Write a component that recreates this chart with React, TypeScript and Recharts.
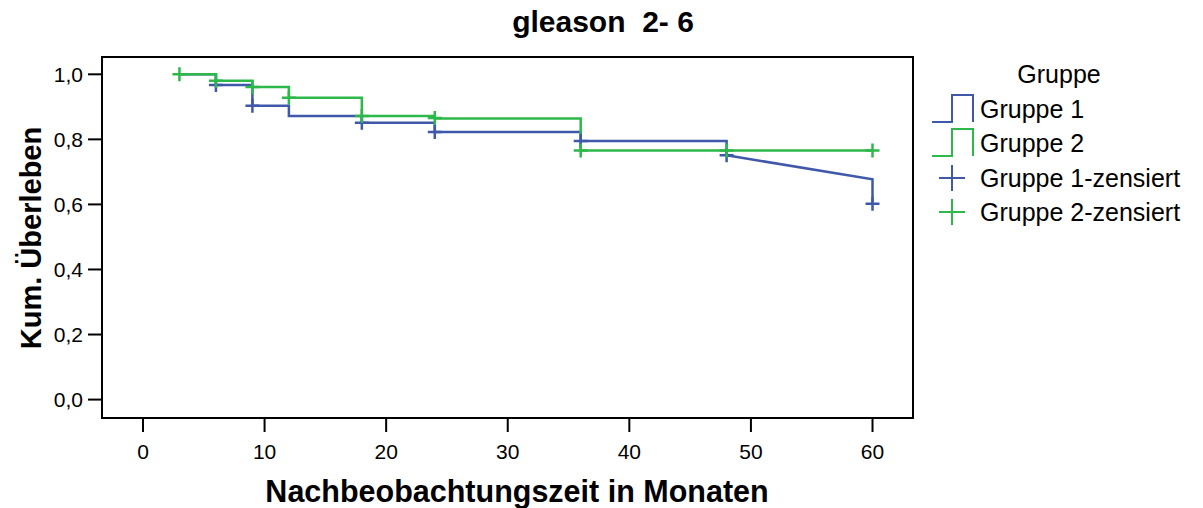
import React from 'react';
import { ComposedChart, Line, Scatter, XAxis, YAxis, ReferenceArea } from 'recharts';

// Kaplan-Meier step points (time in months, cumulative survival)
const gruppe1Zeit = [3, 6, 9, 12, 18, 24, 36, 48];
const gruppe1Ueberleben = [1.0, 0.967, 0.903, 0.872, 0.851, 0.823, 0.795, 0.751];
const gruppe1EndeZeit = [48, 60, 60];
const gruppe1EndeUeberleben = [0.751, 0.677, 0.602];
const gruppe1ZensiertZeit = [6, 9, 18, 24, 36, 48, 60];
const gruppe1ZensiertWert = [0.967, 0.903, 0.851, 0.823, 0.795, 0.751, 0.602];

const gruppe2Zeit = [3, 6, 9, 12, 18, 24, 36, 60];
const gruppe2Ueberleben = [1.0, 0.98, 0.961, 0.928, 0.872, 0.864, 0.766, 0.766];
const gruppe2ZensiertZeit = [3, 6, 9, 12, 18, 24, 36, 48, 60];
const gruppe2ZensiertWert = [1.0, 0.98, 0.961, 0.928, 0.872, 0.866, 0.766, 0.766, 0.766];

const xTicks = [0, 10, 20, 30, 40, 50, 60];
const yTicks = [0, 0.2, 0.4, 0.6, 0.8, 1.0];
const xDomain = [-3.37, 63.33];
const yDomain = [-0.0566, 1.0532];

const titel = 'gleason  2- 6';
const xTitel = 'Nachbeobachtungszeit in Monaten';
const yTitel = 'Kum. Überleben';
const legendeTitel = 'Gruppe';
const legendeNamen = ['Gruppe 1', 'Gruppe 2', 'Gruppe 1-zensiert', 'Gruppe 2-zensiert'];

const BLUE = '#3F58AA';
const GREEN = '#2DB84A';
const FONT = '"Liberation Sans", Arial, sans-serif';
const LW = 2.5;

const toRows = (t: number[], s: number[]) => t.map((v, i) => ({ t: v, s: s[i] }));

const g1 = toRows(gruppe1Zeit, gruppe1Ueberleben);
const g1Ende = toRows(gruppe1EndeZeit, gruppe1EndeUeberleben);
const g1Z = toRows(gruppe1ZensiertZeit, gruppe1ZensiertWert);
const g2 = toRows(gruppe2Zeit, gruppe2Ueberleben);
const g2Z = toRows(gruppe2ZensiertZeit, gruppe2ZensiertWert);

const crossShape = (color: string) => (props: any) => {
  const { cx, cy } = props;
  if (cx == null || cy == null) return <g />;
  return (
    <path
      d={`M${cx - 7},${cy}H${cx + 7}M${cx},${cy - 7}V${cy + 7}`}
      stroke={color}
      strokeWidth={LW}
      fill="none"
    />
  );
};

export default function App() {
  return (
    <div style={{ position: 'absolute', left: 0, top: 0, width: 1203, height: 508, background: '#fff' }}>
      <ComposedChart
        width={1203}
        height={508}
        margin={{ top: 57, right: 290, bottom: 50, left: 42 }}
        style={{ position: 'absolute', left: 0, top: 0 }}
      >
        <XAxis
          type="number"
          dataKey="t"
          domain={xDomain}
          allowDataOverflow
          ticks={xTicks}
          height={40}
          axisLine={false}
          tickSize={14}
          tickMargin={12}
          tickLine={{ stroke: '#000', strokeWidth: 2 }}
          tick={{ fill: '#000', fontSize: 21, fontFamily: FONT }}
        />
        <YAxis
          type="number"
          domain={yDomain}
          allowDataOverflow
          ticks={yTicks}
          width={60}
          axisLine={false}
          tickSize={14}
          tickMargin={5}
          tickLine={{ stroke: '#000', strokeWidth: 2 }}
          tick={{ fill: '#000', fontSize: 21, fontFamily: FONT }}
          tickFormatter={(v: number) => v.toFixed(1).replace('.', ',')}
        />
        <ReferenceArea
          x1={xDomain[0]}
          x2={xDomain[1]}
          y1={yDomain[0]}
          y2={yDomain[1]}
          fill="none"
          stroke="#000"
          strokeWidth={2}
          ifOverflow="visible"
        />
        <Line data={g1} dataKey="s" type="stepAfter" stroke={BLUE} strokeWidth={LW} dot={false} activeDot={false} isAnimationActive={false} />
        <Line data={g1Ende} dataKey="s" type="linear" stroke={BLUE} strokeWidth={LW} dot={false} activeDot={false} isAnimationActive={false} />
        <Line data={g2} dataKey="s" type="stepAfter" stroke={GREEN} strokeWidth={LW} dot={false} activeDot={false} isAnimationActive={false} />
        <Scatter data={g1Z} dataKey="s" shape={crossShape(BLUE)} isAnimationActive={false} />
        <Scatter data={g2Z} dataKey="s" shape={crossShape(GREEN)} isAnimationActive={false} />
      </ComposedChart>
      <svg width={1203} height={508} style={{ position: 'absolute', left: 0, top: 0, pointerEvents: 'none' }}>
        <text x={603} y={32} textAnchor="middle" fontFamily={FONT} fontWeight="bold" fontSize={30} fill="#000" style={{ whiteSpace: 'pre' }}>
          {titel}
        </text>
        <text x={517} y={502} textAnchor="middle" fontFamily={FONT} fontWeight="bold" fontSize={30.5} fill="#000">
          {xTitel}
        </text>
        <text x={41} y={238} textAnchor="middle" fontFamily={FONT} fontWeight="bold" fontSize={29} fill="#000" transform="rotate(-90 41 238)">
          {yTitel}
        </text>
        <text x={1059} y={83} textAnchor="middle" fontFamily={FONT} fontSize={25} fill="#000">
          {legendeTitel}
        </text>
        <path d="M932,122H952V95H973V122" stroke={BLUE} strokeWidth={2} fill="none" />
        <path d="M932,156H952V129H973V156" stroke={GREEN} strokeWidth={2} fill="none" />
        <path d="M939,178H965M952,165V191" stroke={BLUE} strokeWidth={2} fill="none" />
        <path d="M939,212H965M952,199V225" stroke={GREEN} strokeWidth={2} fill="none" />
        {legendeNamen.map((n, i) => (
          <text key={n} x={980} y={118 + i * 34.3} fontFamily={FONT} fontSize={25} fill="#000">
            {n}
          </text>
        ))}
      </svg>
    </div>
  );
}
